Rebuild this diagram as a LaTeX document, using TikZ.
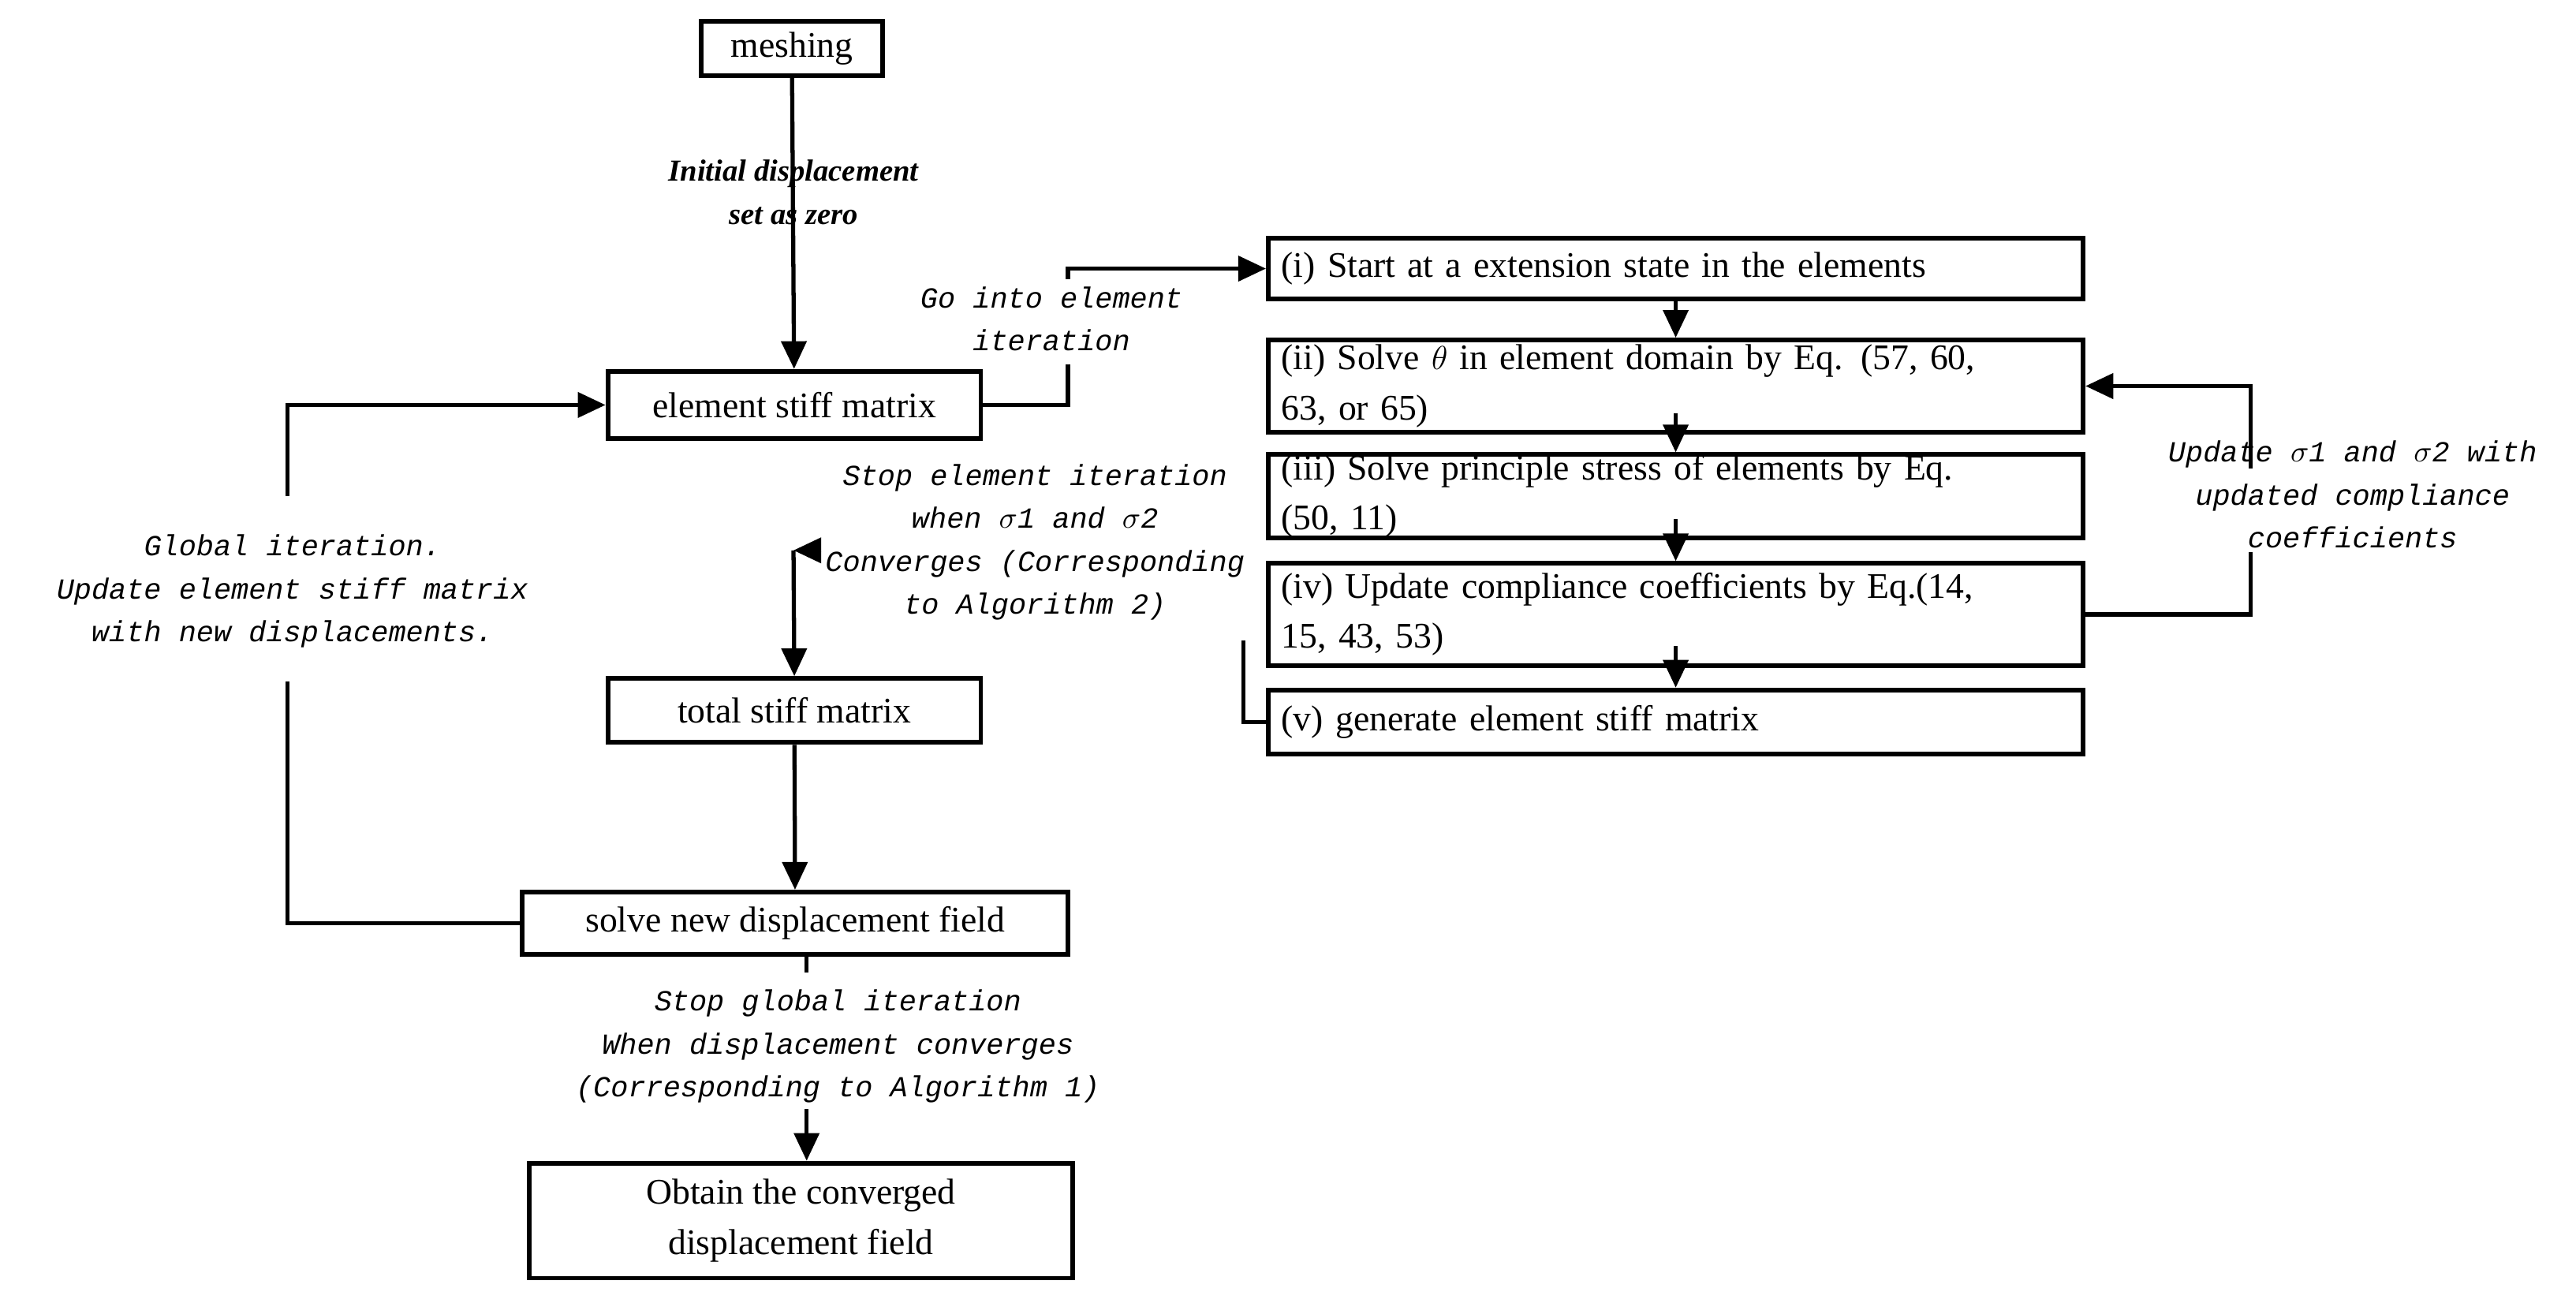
\documentclass[tikz,border=0pt]{standalone}
\usepackage{fontspec}
\setmainfont{Liberation Serif}
\newfontfamily\lblfont{Liberation Mono}
\usetikzlibrary{arrows.meta}
\tikzset{
  box/.style={draw,line width=1.7pt,inner sep=0pt,font=\fontsize{13}{18}\selectfont},
  stepbox/.style={box,minimum width=496*0.02083cm,text width=480*0.02083cm,align=left},
  lbl/.style={font=\lblfont\itshape\fontsize{10.5}{15.5}\selectfont,align=center},
  conn/.style={line width=1.5pt,-{Triangle[length=10pt,width=9pt]}},
  line/.style={line width=1.5pt}
}
\begin{document}
\begin{tikzpicture}[x=0.02083cm,y=-0.02083cm]
\useasboundingbox (0,0) rectangle (1568,793);
% main column
\node [box,minimum width=110*0.02083cm,minimum height=33*0.02083cm] (mesh) at (482,29.5) {meshing};
\node [box,minimum width=227*0.02083cm,minimum height=41*0.02083cm] (esm) at (483.5,246.5) {element stiff matrix};
\node [box,minimum width=227*0.02083cm,minimum height=39*0.02083cm] (tsm) at (483.5,432.5) {total stiff matrix};
\node [box,minimum width=332*0.02083cm,minimum height=38*0.02083cm] (solve) at (484,562) {solve new displacement field};
\node [box,minimum width=331*0.02083cm,minimum height=70*0.02083cm,align=center] (final) at (487.5,743) {Obtain the converged\\displacement field};
% element iteration steps
\node [stepbox,minimum height=37*0.02083cm] (s1) at (1020,163.5) {(i) Start at a extension state in the elements};
\node [stepbox,minimum height=56*0.02083cm] (s2) at (1020,235) {(ii) Solve $\theta$ in element domain by Eq. (57, 60,\\63, or 65)};
\node [stepbox,minimum height=50*0.02083cm] (s3) at (1020,302) {(iii) Solve principle stress of elements by Eq.\\(50, 11)};
\node [stepbox,minimum height=62*0.02083cm] (s4) at (1020,374) {(iv) Update compliance coefficients by Eq.(14,\\15, 43, 53)};
\node [stepbox,minimum height=39*0.02083cm] (s5) at (1020,439.5) {(v) generate element stiff matrix};
% labels
\node [lbl,font=\fontsize{11}{15.5}\selectfont\bfseries\itshape] (linit) at (483,117) {Initial displacement\\set as zero};
\node [lbl] (lgo) at (640,194) {Go into element\\iteration};
\node [lbl] (lstop) at (630,330) {Stop element iteration\\when $\sigma$1 and $\sigma$2\\Converges (Corresponding\\to Algorithm 2)};
\node [lbl] (lupd) at (1432,301) {Update $\sigma$1 and $\sigma$2 with\\updated compliance\\coefficients};
\node [lbl] (lglob) at (178,360) {Global iteration.\\Update element stiff matrix\\with new displacements.};
\node [lbl] (lend) at (510,637) {Stop global iteration\\When displacement converges\\(Corresponding to Algorithm 1)};
% helper coordinates
\coordinate (g1) at (650,222);
\coordinate (g2) at (650,170);
\coordinate (u1) at (1370,336);
\coordinate (u2) at (1370,285);
\coordinate (k1) at (500,335);
\coordinate (k2) at (483,335);
\coordinate (v1) at (757,390);
\coordinate (b1) at (175,415);
\coordinate (b2) at (175,302);
\coordinate (e1) at (491,592);
\coordinate (e2) at (491,675);
% connectors
\draw [conn] (mesh) -- (esm);
\draw [line] (esm.east) -| (g1);
\draw [conn] (g2) |- (s1.west);
\draw [conn] (s1.south) -- (s2.north);
\draw [conn] (s2.south)+(0,-13) -- (s3.north);
\draw [conn] (s3.south)+(0,-13) -- (s4.north);
\draw [conn] (s4.south)+(0,-13) -- (s5.north);
\draw [line] (s4.east) -| (u1);
\draw [conn] (u2) |- (s2.east);
\draw [line] (v1) |- (s5.west);
\draw [conn] (k1) -- (k2);
\draw [conn] (k2) -- (tsm.north);
\draw [conn] (tsm) -- (solve);
\draw [line] (solve.west) -| (b1);
\draw [conn] (b2) |- (esm.west);
\draw [line] (solve.south -| e1) -- (e1);
\draw [conn] (e2) -- (final.north -| e2);
\end{tikzpicture}
\end{document}
